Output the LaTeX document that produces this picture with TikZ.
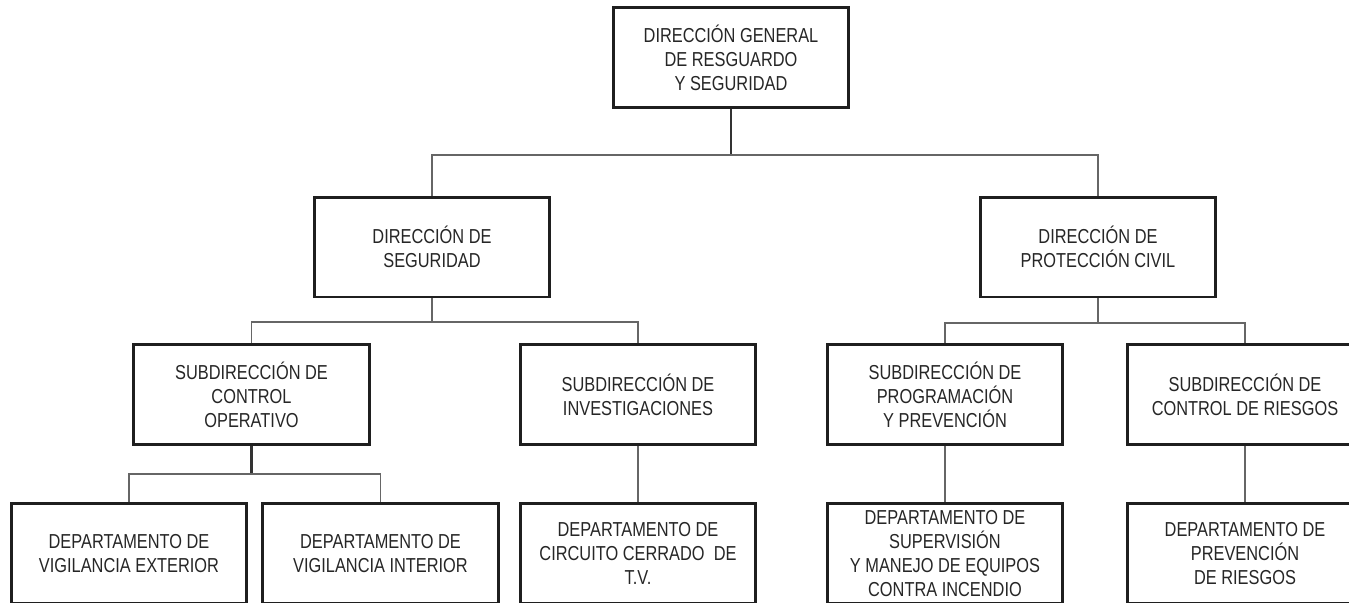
\documentclass[tikz,border=0pt]{standalone}
\usepackage{fontspec}
\setmainfont{Liberation Sans}[FakeStretch=0.81]
\usetikzlibrary{positioning}

\begin{document}
\begin{tikzpicture}[x=0.02cm,y=-0.02cm,
        box/.style={draw=black!88,line width=1.7pt,minimum width=4.72cm,minimum height=2cm,
          align=center,font=\fontsize{11.5}{13.6}\selectfont,text=black!85,inner sep=0pt},
        conn/.style={draw=black!60,line width=1.1pt},
        connb/.style={draw=black!80,line width=1.6pt}]
        \useasboundingbox (0,0) rectangle (1349,602);
        \fill[white] (0,0) rectangle (1349,602);
        \clip (0,0) rectangle (1349,602);

        \node[box] (DG) at (731,57.5) {DIRECCIÓN GENERAL\\DE RESGUARDO\\Y SEGURIDAD};

        \node[box] (DS) at (432,247) {DIRECCIÓN DE\\SEGURIDAD};
        \node[box] (DPC) at (1098,247) {DIRECCIÓN DE\\PROTECCIÓN CIVIL};

        \node[box] (SCO) at (251.5,394.5) {SUBDIRECCIÓN DE\\CONTROL\\OPERATIVO};
        \node[box] (SI) at (638,394.5) {SUBDIRECCIÓN DE\\INVESTIGACIONES};
        \node[box] (SPP) at (945,394.5) {SUBDIRECCIÓN DE\\PROGRAMACIÓN\\Y PREVENCIÓN};
        \node[box] (SCR) at (1245,394.5) {SUBDIRECCIÓN DE\\CONTROL DE RIESGOS};

        \node[box] (DVE) at (129,553.5) {DEPARTAMENTO DE\\VIGILANCIA EXTERIOR};
        \node[box] (DVI) at (380.5,553.5) {DEPARTAMENTO DE\\VIGILANCIA INTERIOR};
        \node[box] (DCC) at (638,553.5) {DEPARTAMENTO DE\\CIRCUITO CERRADO\ \ DE\\T.V.};
        \node[box] (DSM) at (945,553.5) {DEPARTAMENTO DE\\SUPERVISIÓN\\Y MANEJO DE EQUIPOS\\CONTRA INCENDIO};
        \node[box] (DPR) at (1245,553.5) {DEPARTAMENTO DE\\PREVENCIÓN\\DE RIESGOS};

        \coordinate (DGJ) at (731,155);
        \coordinate (DSJ) at (432,322);
        \coordinate (DPCJ) at (1098,323);
        \coordinate (SCOJ) at (251.5,474);

        \draw[connb] (DG) -- (DGJ);
        \draw[conn] (DS) |- (DGJ);
        \draw[conn] (DPC) |- (DGJ);

        \draw[conn] (DS) -- (DSJ);
        \draw[conn] (SCO) |- (DSJ);
        \draw[conn] (SI) |- (DSJ);

        \draw[conn] (DPC) -- (DPCJ);
        \draw[conn] (SPP) |- (DPCJ);
        \draw[conn] (SCR) |- (DPCJ);

        \draw[connb] (SCO) -- (SCOJ);
        \draw[conn] (DVE) |- (SCOJ);
        \draw[conn] (DVI) |- (SCOJ);

        \draw[conn] (SI) -- (DCC);
        \draw[conn] (SPP) -- (DSM);
        \draw[conn] (SCR) -- (DPR);
      \end{tikzpicture}
\end{document}
